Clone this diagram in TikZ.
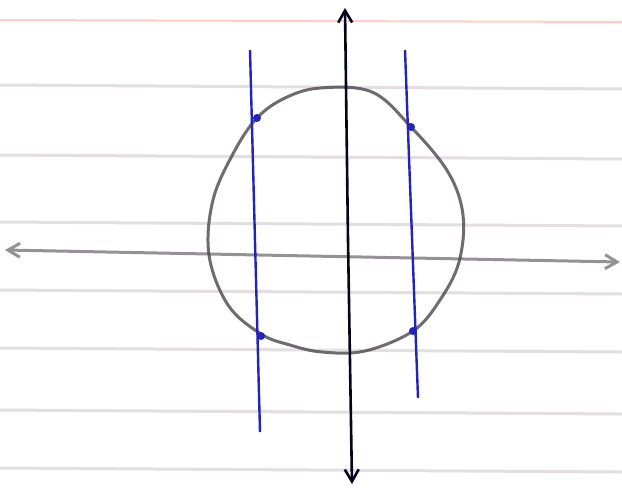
\documentclass[tikz,border=0pt]{standalone}
\usetikzlibrary{arrows.meta}
\definecolor{pen}{RGB}{35,35,185}
\definecolor{pencil}{RGB}{75,70,75}
\definecolor{axisgray}{RGB}{150,145,150}
\definecolor{paperline}{RGB}{226,222,226}
\begin{document}
\begin{tikzpicture}[x=1pt,y=-1pt,
  ruled/.style={paperline,line width=3pt},
  blueline/.style={pen,line width=2.4pt},
  dotmark/.style={circle,fill=pen,inner sep=0pt,minimum size=8pt},
  axisarrow/.style={-{Straight Barb[length=12pt,width=14pt]}}]
\useasboundingbox (0,0) rectangle (622,491);
\fill[white] (0,0) rectangle (622,491);
% ruled paper lines
\foreach \y in {85,155,222,290,348,410,468}
  \draw[ruled] (0,\y) -- (622,\y+4);
\draw[red!20,line width=2pt] (0,20) -- (622,22);
% coordinates
\coordinate (vtop) at (345,8);
\coordinate (vbot) at (352,484);
\coordinate (hl) at (5,250);
\coordinate (hr) at (620,262);
\coordinate (hmid) at (310,256);
\coordinate (vmid) at (348,240);
% horizontal axis
\draw[axisgray,line width=3pt,axisarrow] (hmid) -- (hl);
\draw[axisgray,line width=3pt,axisarrow] (hmid) -- (hr);
% circle
\draw[pencil,line width=3pt,opacity=0.8] plot[smooth cycle,tension=0.6] coordinates {
 (320,88) (372,92) (411,127) (448,172) (463,215) (459,262) (440,300) (413,331)
 (365,351) (322,352) (290,345) (261,334) (228,305) (209,255) (213,200) (234,152) (257,118) (285,98)};
% vertical axis
\draw[black!85!pen,line width=2.6pt,axisarrow] (vmid) -- (vtop);
\draw[black!85!pen,line width=2.6pt,axisarrow] (vmid) -- (vbot);
% blue lines
\coordinate (b1t) at (250,50);
\coordinate (b1b) at (260,432);
\coordinate (b2t) at (405,50);
\coordinate (b2b) at (418,398);
\draw[blueline] (b1t) -- (b1b);
\draw[blueline] (b2t) -- (b2b);
% intersection points
\node[dotmark] (p1) at (257,118) {};
\node[dotmark] (p2) at (411,127) {};
\node[dotmark] (p3) at (261,336) {};
\node[dotmark] (p4) at (413,331) {};
\end{tikzpicture}
\end{document}
